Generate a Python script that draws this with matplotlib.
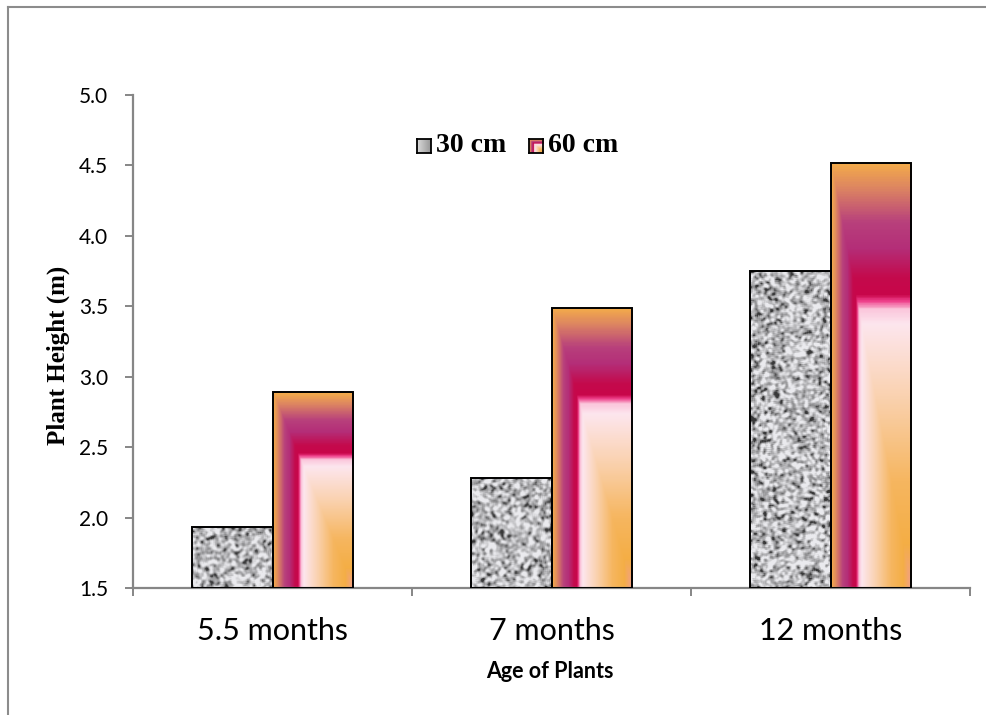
import numpy as np
import matplotlib
matplotlib.use("Agg")
import matplotlib.pyplot as plt
from matplotlib.colors import LinearSegmentedColormap
from matplotlib.lines import Line2D

# plant height by age, two spacings
ages = ["5.5 months", "7 months", "12 months"]
series = ["30 cm", "60 cm"]
height_30 = [1.93, 2.28, 3.75]
height_60 = [2.89, 3.49, 4.52]
yticks = [1.5, 2.0, 2.5, 3.0, 3.5, 4.0, 4.5, 5.0]

base = 1.5
bar_w = 0.287

# "fire" style fill, s = 0 at the left/top edge, s = 1 at the bottom-right corner
fire = LinearSegmentedColormap.from_list("fire", [
    (0.00, "#F4AC4A"), (0.06, "#DC8462"), (0.14, "#B8407C"),
    (0.20, "#B42E78"), (0.27, "#C40A4C"), (0.31, "#C8064A"),
    (0.325, "#EE3F8A"), (0.345, "#FBC7DC"), (0.38, "#FDE6EE"),
    (0.55, "#FAD2B0"), (0.75, "#F6B660"), (0.90, "#F4AE45"),
    (1.00, "#F2A08A"),
])


def fire_fill(nx, ny):
    u = np.linspace(0, 1, nx)[None, :]
    v = np.linspace(0, 1, ny)[:, None]
    s = np.minimum(u, v)
    return fire(s)


def blur(a, k):
    kern = np.ones(k) / k
    p = k
    a = np.pad(a, p, mode="reflect")
    a = np.apply_along_axis(lambda r: np.convolve(r, kern, mode="same"), 1, a)
    a = np.apply_along_axis(lambda c: np.convolve(c, kern, mode="same"), 0, a)
    return a[p:-p, p:-p]


rng = np.random.default_rng(11)


def granite(nx, ny):
    # speckled grey stone texture
    n = blur(blur(rng.random((ny, nx)), 3), 3)
    z = (n - n.mean()) / n.std()
    g = 0.73 + 0.15 * z
    g = np.where(z < -1.2, g - 0.2 * (-1.2 - z), g)
    g = np.clip(g, 0.22, 0.92)
    return np.dstack([g, g, np.clip(g * 1.015, 0, 1)])


fig = plt.figure(figsize=(9.86, 7.15), dpi=100)
ax = fig.add_axes([133 / 986, 1 - 588 / 715, 837 / 986, 493 / 715])

x = np.arange(len(ages))
bars30 = ax.bar(x - bar_w / 2, np.array(height_30) - base, bar_w, bottom=base,
                facecolor="none", edgecolor="black", lw=1.4, zorder=3)
bars60 = ax.bar(x + bar_w / 2, np.array(height_60) - base, bar_w, bottom=base,
                facecolor="none", edgecolor="black", lw=1.4, zorder=3)

for rect in bars30:
    x0, y0, w, h = rect.get_x(), rect.get_y(), rect.get_width(), rect.get_height()
    img = granite(80, max(int(h * 141), 4))
    im = ax.imshow(img, extent=(x0, x0 + w, y0, y0 + h), aspect="auto",
                   interpolation="bilinear", zorder=2)
    im.set_clip_path(rect)

for rect in bars60:
    x0, y0, w, h = rect.get_x(), rect.get_y(), rect.get_width(), rect.get_height()
    img = fire_fill(80, max(int(h * 141), 4))
    im = ax.imshow(img, extent=(x0, x0 + w, y0, y0 + h), aspect="auto",
                   interpolation="bilinear", zorder=2)
    im.set_clip_path(rect)

ax.set_xlim(-0.5, len(ages) - 0.5)
ax.set_ylim(yticks[0], yticks[-1])

axis_grey = "#868686"
for side in ("top", "right"):
    ax.spines[side].set_visible(False)
for side in ("left", "bottom"):
    ax.spines[side].set_color(axis_grey)
    ax.spines[side].set_linewidth(1.6)

ax.set_yticks(yticks, [f"{t:.1f}" for t in yticks])
ax.tick_params(axis="y", length=6, width=1.4, color=axis_grey, pad=12,
               labelsize=15)
ax.set_xticks(x, ages)
ax.set_xticks(np.arange(len(ages) + 1) - 0.5, minor=True)
ax.tick_params(axis="x", which="major", length=0, pad=21, labelsize=22)
ax.tick_params(axis="x", which="minor", length=6, width=1.4, color=axis_grey)
for lab in ax.get_xticklabels() + ax.get_yticklabels():
    lab.set_family("Lato")

fig.text(550 / 986, 1 - 672 / 715, "Age of Plants", ha="center", va="center",
         family="Lato", weight="bold", size=15.5)
fig.text(58 / 986, 1 - 355 / 715, "Plant Height (m)", ha="center", va="center",
         rotation=90, family="Liberation Serif", weight="bold", size=18)

# legend
legend_x = [417, 529]
for lx, name in zip(legend_x, series):
    sq = fig.add_axes([lx / 986, 1 - 153 / 715, 14 / 986, 14 / 715])
    if name == "30 cm":
        g = np.linspace(0.85, 0.6, 12)[None, :] * np.ones((12, 1))
        sq.imshow(np.dstack([g, g, g]), aspect="auto", interpolation="bilinear")
    else:
        sq.imshow(fire_fill(12, 12), aspect="auto", interpolation="bilinear")
    sq.set_xticks([])
    sq.set_yticks([])
    for sp in sq.spines.values():
        sp.set_linewidth(1.3)
        sp.set_color("black")
    fig.text((lx + 19) / 986, 1 - 146 / 715, name, ha="left", va="center",
             family="Liberation Serif", weight="bold", size=20)

# chart frame
frame = dict(transform=fig.transFigure, color="#8c8c8c", lw=1.5)
fig.add_artist(Line2D([8 / 986, 1], [1 - 7 / 715, 1 - 7 / 715], **frame))
fig.add_artist(Line2D([8 / 986, 8 / 986], [0, 1 - 7 / 715], **frame))

fig.savefig("out.png", dpi=100)
